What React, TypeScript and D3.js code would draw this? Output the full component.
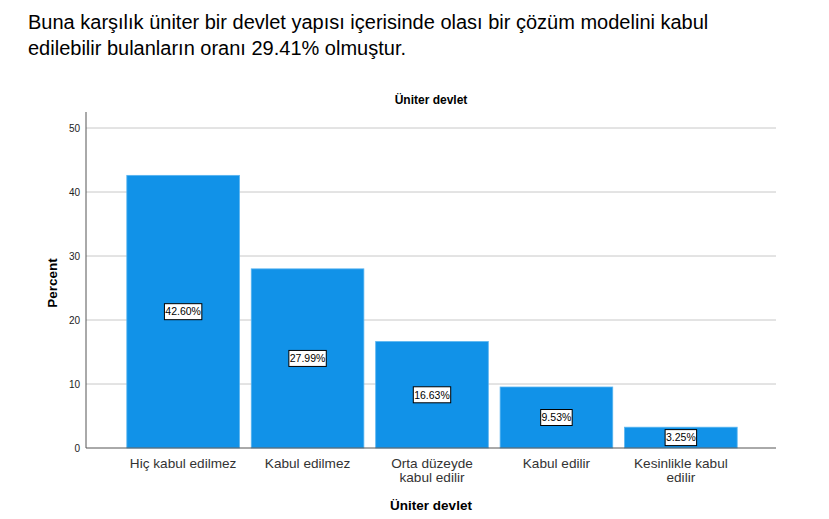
import React from "react";
import * as d3 from "d3";

const categories = ["Hiç kabul edilmez", "Kabul edilmez", "Orta düzeyde kabul edilir", "Kabul edilir", "Kesinlikle kabul edilir"];
const categoryLines = [["Hiç kabul edilmez"], ["Kabul edilmez"], ["Orta düzeyde", "kabul edilir"], ["Kabul edilir"], ["Kesinlikle kabul", "edilir"]];
const percents = [42.6, 27.99, 16.63, 9.53, 3.25];
const yTicks = [0, 10, 20, 30, 40, 50];

const W = 829, H = 519;
const left = 86, right = 776, top = 128, bottom = 448;

export default function App() {
  const x = d3.scaleBand<string>().domain(categories).range([left + 1, right + 1]).paddingInner(0.095).paddingOuter(0.32);
  const y = d3.scaleLinear().domain([0, 50]).range([bottom, top]);
  const font = "'Liberation Sans', Arial, sans-serif";
  return (
    <svg width={W} height={H} style={{ position: "absolute", left: 0, top: 0, background: "#fff" }} fontFamily={font}>
      <text x={28} y={29} fontSize={20} fill="#000">Buna karşılık üniter bir devlet yapısı içerisinde olası bir çözüm modelini kabul</text>
      <text x={28} y={55} fontSize={20} fill="#000">edilebilir bulanların oranı 29.41% olmuştur.</text>
      <text x={(left + right) / 2} y={104} fontSize={12} fontWeight="bold" textAnchor="middle">Üniter devlet</text>
      {yTicks.map(t => (
        <g key={t}>
          {t > 0 && <line x1={left} x2={right} y1={y(t)} y2={y(t)} stroke="#c8c8c8" strokeWidth={1} />}
          <text x={80} y={y(t) + 3.5} fontSize={10} textAnchor="end" fill="#222">{t}</text>
        </g>
      ))}
      {categories.map((c, i) => {
        const bx = x(c)!;
        const bw = x.bandwidth();
        const v = percents[i];
        const cy = y(v / 2);
        const label = v.toFixed(2) + "%";
        const lw = label.length * 5.9 + 2;
        return (
          <g key={c}>
            <rect x={bx} y={y(v)} width={bw} height={bottom - y(v)} fill="#1192e8" stroke="#58b4f0" strokeWidth={0.8} />
            <rect x={bx + bw / 2 - lw / 2} y={cy - 8} width={lw} height={16} fill="#fff" stroke="#000" strokeWidth={1} />
            <text x={bx + bw / 2} y={cy + 3.8} fontSize={10.5} textAnchor="middle" fill="#000">{label}</text>
            {categoryLines[i].map((ln, j) => (
              <text key={j} x={bx + bw / 2} y={468 + j * 14} fontSize={13.6} textAnchor="middle" fill="#333">{ln}</text>
            ))}
          </g>
        );
      })}
      <line x1={left} x2={left} y1={112} y2={bottom} stroke="#555" strokeWidth={1} />
      <line x1={left} x2={right} y1={bottom} y2={bottom} stroke="#555" strokeWidth={1} />
      <text x={(left + right) / 2} y={510} fontSize={13.5} fontWeight="bold" textAnchor="middle">Üniter devlet</text>
      <text transform={`translate(57, ${(top + bottom) / 2 - 5}) rotate(-90)`} fontSize={13.5} fontWeight="bold" textAnchor="middle">Percent</text>
    </svg>
  );
}
